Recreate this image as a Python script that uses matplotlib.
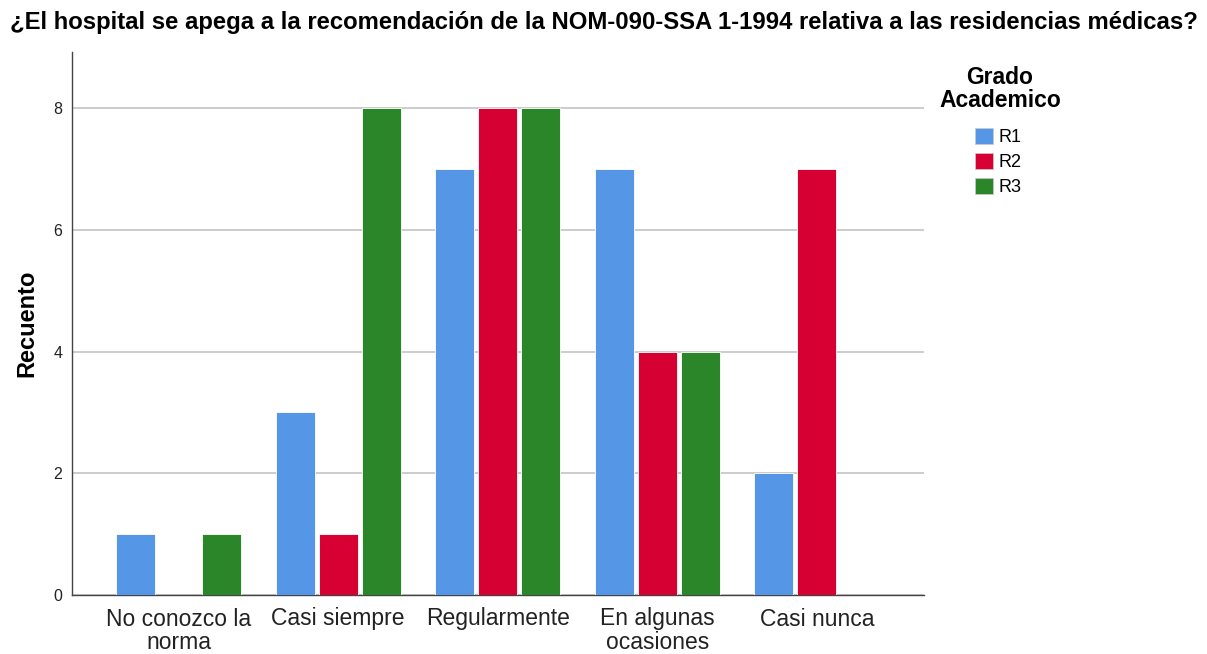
import numpy as np
import matplotlib
matplotlib.use('Agg')
import matplotlib.pyplot as plt
from matplotlib.patches import Patch

plt.rcParams['font.family'] = ['Liberation Sans', 'DejaVu Sans']

# 데이터
categories = ['No conozco la\nnorma', 'Casi siempre', 'Regularmente',
              'En algunas\nocasiones', 'Casi nunca']
series_names = ['R1', 'R2', 'R3']
r1_values = [1, 3, 7, 7, 2]
r2_values = [0, 1, 8, 4, 7]
r3_values = [1, 8, 8, 4, 0]
y_ticks = [0, 2, 4, 6, 8]

colors = ['#5596E6', '#D60032', '#2A8629']

fig = plt.figure(figsize=(12.07, 6.54), dpi=100)
ax = fig.add_axes([72 / 1207, 59 / 654, (924 - 72) / 1207, (595 - 52) / 654])

x = np.arange(len(categories))
width = 0.245
offsets = [-0.27, 0.0, 0.27]
for vals, off, col in zip([r1_values, r2_values, r3_values], offsets, colors):
    v = np.array(vals, dtype=float)
    mask = v > 0
    ax.bar(x[mask] + off, v[mask], width=width, color=col,
           edgecolor='white', linewidth=0.6, zorder=3)

ax.set_xlim(-0.668, 4.672)
ax.set_ylim(0, 8.92)
ax.set_yticks(y_ticks)
ax.set_yticklabels([str(t) for t in y_ticks], fontsize=11.5)
ax.set_xticks(x)
ax.set_xticklabels(categories, fontsize=16.5, linespacing=1.05)
ax.tick_params(axis='both', length=0, colors='#222222')
ax.tick_params(axis='y', pad=7)
ax.tick_params(axis='x', pad=9)

ax.yaxis.grid(True, color='#C8C8C8', linewidth=1.3, zorder=0)
ax.set_axisbelow(True)
for s in ['top', 'right']:
    ax.spines[s].set_visible(False)
for s in ['left', 'bottom']:
    ax.spines[s].set_color('#444444')
    ax.spines[s].set_linewidth(1.0)

ax.set_ylabel('Recuento', fontsize=17, fontweight='bold', labelpad=11)

fig.suptitle('¿El hospital se apega a la recomendación de la NOM-090-SSA 1-1994 relativa a las residencias médicas?',
             x=0.5, y=0.983, fontsize=17.2, fontweight='bold')

# 범례 (제목은 따로)
fig.text(1000 / 1207, 1 - 89 / 654, 'Grado\nAcademico', ha='center', va='center',
         multialignment='center', fontsize=16.5, fontweight='bold', linespacing=1.05)
handles = [Patch(facecolor=c, edgecolor='#cccccc', linewidth=0.5) for c in colors]
leg = fig.legend(handles, series_names, loc='upper left',
                 bbox_to_anchor=(975 / 1207, 1 - 128 / 654), frameon=False,
                 fontsize=13, borderpad=0, borderaxespad=0,
                 handlelength=1.0, handleheight=0.95, handletextpad=0.3,
                 labelspacing=0.4)

fig.savefig('out.png', dpi=100, facecolor='white')
